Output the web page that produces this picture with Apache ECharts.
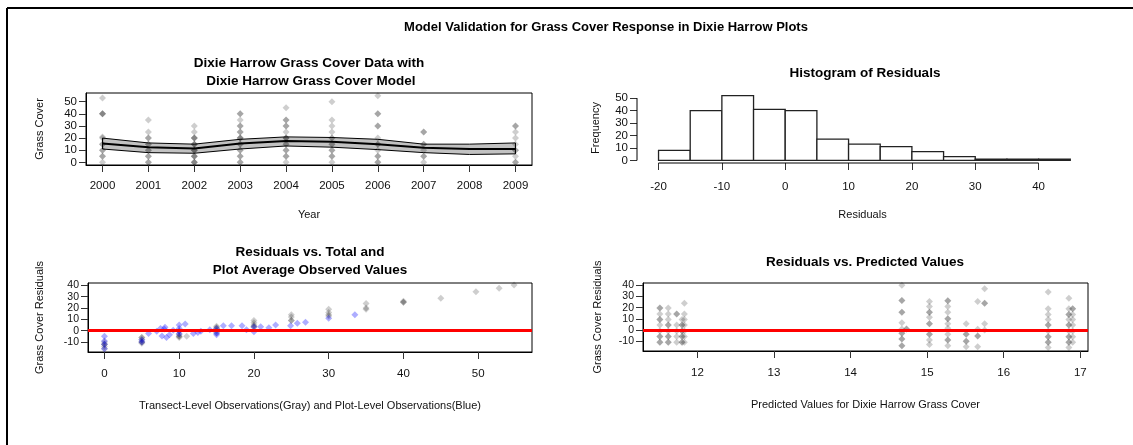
<!DOCTYPE html>
<html>
<head>
<meta charset="utf-8">
<title>Model Validation for Grass Cover Response in Dixie Harrow Plots</title>
<script src="https://cdn.jsdelivr.net/npm/echarts@6/dist/echarts.min.js"></script>
<style>
  html, body { margin: 0; padding: 0; background: #fff; }
  #chart { width: 1133px; height: 445px; }
</style>
</head>
<body>
<div id="chart"></div>
<script>
// ---- data ----
// top left: observed grass cover per year (duplicates = overlapping points)
const obsYears = [2000, 2001, 2002, 2003, 2004, 2005, 2006, 2007, 2009]
const obsByYear = [
  [53, 40, 40, 40, 21, 20, 15, 15, 10, 10, 5, 5, 0],
  [35, 25, 20, 20, 15, 15, 10, 10, 5, 5, 0, 0],
  [30, 25, 20, 20, 20, 15, 15, 15, 10, 10, 10, 5, 5, 5, 0, 0, 0],
  [40, 40, 35, 30, 30, 25, 25, 20, 20, 20, 15, 15, 10, 10, 5, 5, 0, 0],
  [45, 35, 35, 30, 30, 25, 20, 20, 20, 15, 15, 10, 10, 5, 5, 0],
  [50, 35, 30, 25, 20, 20, 15, 15, 10, 10, 5, 5, 0],
  [55, 40, 40, 30, 30, 20, 15, 15, 10, 5, 5, 0, 0],
  [25, 25, 15, 15, 10, 5, 5, 0],
  [30, 30, 25, 20, 15, 10, 10, 5, 0, 0]
]
// model fit and band
const modelYears = [2000, 2001, 2002, 2003, 2004, 2005, 2006, 2007, 2008, 2009]
const modelMean  = [15.5, 12.5, 11.5, 15.5, 17.5, 17, 15, 12, 11, 11]
const modelLower = [11, 8, 7.5, 11, 13.5, 12.5, 10.5, 8, 6.5, 7]
const modelUpper = [20, 16, 15, 19, 21, 20.5, 19, 15, 15, 16]

// top right: histogram of residuals
const binStarts = [-20, -15, -10, -5, 0, 5, 10, 15, 20, 25, 30, 35, 40]
const binCounts = [8, 40, 52, 41, 40, 17, 13, 11, 7, 3, 1, 1, 1]
const binWidth = 5

// bottom left: residuals vs observed (gray = transect level, blue = plot level)
const transectObs = [0, 0, 0, 0, 0, 5, 5, 5, 5, 5, 5, 10, 10, 10, 10, 10, 11,
  15, 15, 15, 15, 15, 20, 20, 20, 20, 20, 25, 25, 25, 25, 30, 30, 30, 30,
  35, 35, 35, 40, 40, 40, 45, 49.7, 52.8, 54.8]
const transectRes = [-10, -12, -12, -14, -16, -6, -6, -8, -10, -10, -11, 0, -3, -5, -5, -6, -5,
  4, 3, 2, 0, -2, 9, 7, 5, 4, 3, 14, 12, 9, 9, 19, 16, 14, 13,
  24, 20, 19, 26, 25, 25, 28.6, 34.4, 37.4, 40.3]
const plotObs = [0, 0, 0, 0, 5, 5, 5.9, 7, 7.5, 7.7, 8, 8.1, 8.3, 8.7, 9.2, 10, 10, 10, 10,
  10.8, 11.9, 12.5, 12.9, 14.1, 15, 15, 15, 15.9, 17, 18.4, 19, 20, 20, 20.9, 22, 22.9,
  24.9, 25.8, 26.9, 30, 33.5]
const plotRes = [-5, -9, -12, -16, -8, -10, -2.5, -0.5, 2, -4.7, 1.4, 3, -6, -3.5, 0.5, 5, 2, -0.5, -3,
  6, -2.5, -1.5, -0.5, 0.8, 2, -2, -3.5, 4.4, 4.4, 4.4, 0.8, -1, 3.5, 3.5, 2.6, 5,
  4.4, 6.5, 7.4, 11, 14]

// bottom right: residuals vs predicted values, one column per predicted value
const predValues = [11.51, 11.62, 11.73, 11.8, 11.83, 14.67, 14.73, 15.03, 15.27, 15.51, 15.66, 15.75, 16.58, 16.85, 16.9]
const predResByValue = [
  [19.7, 19.7, 14.4, 9.4, 9.4, 4.4, -1, -5.9, -5.9, -10.9, -10.9],
  [19.7, 14.4, 9.4, 4.4, 4.4, -1, -5.9, -5.9, -10.9, -10.9],
  [14.4, 14.4, 4.4, -1, -5.9, -10.9],
  [9.4, 4.4, 4.4, -1, -1, -5.9, -5.9, -10.9, -10.9],
  [24, 14.4, 9.4, 4.4, -1, -5.9, -10.9],
  [40, 26.5, 26.5, 15.9, 15.9, 6.5, 1, -3, -3, -8, -8, -14, -14],
  [1, 1],
  [25.6, 21, 16, 16, 11.5, 5.6, 5.6, -3.8, -3.8, -9, -13],
  [26.2, 26.2, 21, 16, 10, 10, 5.6, 1.5, -3.8, -9, -9, -14],
  [5.6, -3.8, -3.8, -10, -10, -15],
  [25.6, 0.6, -5.3, -5.3, -15],
  [37, 24, 24, 5.6, 0],
  [34, 19, 14, 9.4, 4.4, 4.4, -1, -6, -6, -11, -11, -15.6],
  [28.5, 19, 14, 14, 9.4, 4.4, 4.4, -1, -6, -6, -11, -11, -15.6],
  [19, 19, 14, 9.4, 4.4, -1, -6, -11]
]

// tick labels
const yearTicks = [2000, 2001, 2002, 2003, 2004, 2005, 2006, 2007, 2008, 2009]
const coverTicks = [0, 10, 20, 30, 40, 50]
const histXTicks = [-20, -10, 0, 10, 20, 30, 40]
const histYTicks = [0, 10, 20, 30, 40, 50]
const residTicks = [-10, 0, 10, 20, 30, 40]
const obsTicks = [0, 10, 20, 30, 40, 50]
const predTicks = [12, 13, 14, 15, 16, 17]

// ---- chart ----
const FONT = 'Liberation Sans, Arial, sans-serif'
const chart = echarts.init(document.getElementById('chart'))

function pairs (xs, ys) {
  return xs.map((x, i) => [x, ys[i]])
}

function axis (gridIndex, min, max, ticks, name, nameGap, isY, hideLine, labelSize, labelMargin) {
  return {
    type: 'value',
    gridIndex: gridIndex,
    min: min,
    max: max,
    name: name,
    nameLocation: 'middle',
    nameGap: nameGap,
    nameRotate: isY ? 90 : 0,
    nameTextStyle: { fontFamily: FONT, fontSize: 11, color: '#111' },
    axisLine: { show: !hideLine, onZero: false, lineStyle: { color: '#000', width: 1 } },
    axisTick: { show: true, length: 7, customValues: ticks, lineStyle: { color: '#333', width: 1 } },
    axisLabel: {
      customValues: ticks,
      showMinLabel: true,
      showMaxLabel: true,
      margin: labelMargin || (isY ? 9 : 15),
      fontFamily: FONT,
      fontSize: labelSize || 11.5,
      lineHeight: 9,
      color: '#111',
      formatter: v => String(v)
    },
    splitLine: { show: false }
  }
}

const pointStyle = { color: 'rgba(0,0,0,0.24)' }
const redLine = {
  silent: true,
  symbol: 'none',
  z: 10,
  label: { show: false },
  lineStyle: { color: '#ff0000', width: 3, type: 'solid' },
  data: [{ yAxis: 0 }]
}

const coverPoints = []
obsYears.forEach((yr, i) => {
  obsByYear[i].forEach(v => coverPoints.push([yr, v]))
})
const predPoints = []
predValues.forEach((p, i) => {
  predResByValue[i].forEach(r => predPoints.push([p, r]))
})

const histX = { min: -23.4, max: 47.8 }
const histY = { min: -2.08, max: 54.08 }

function title (text, x, y, size) {
  return {
    type: 'text',
    x: x,
    y: y,
    style: {
      text: text,
      fontFamily: FONT,
      fontSize: size,
      fontWeight: 'bold',
      fill: '#000',
      textAlign: 'center',
      textVerticalAlign: 'middle',
      lineHeight: 18
    }
  }
}

var option = {
  backgroundColor: '#fff',
  animation: false,
  graphic: [
    { type: 'line', shape: { x1: 7, y1: 8, x2: 1140, y2: 8 }, style: { stroke: '#000', lineWidth: 2 } },
    { type: 'line', shape: { x1: 7, y1: 8, x2: 7, y2: 450 }, style: { stroke: '#000', lineWidth: 2 } },
    title('Model Validation for Grass Cover Response in Dixie Harrow Plots', 606, 27, 13),
    title('Dixie Harrow Grass Cover Data with\n Dixie Harrow Grass Cover Model', 309, 72, 13.5),
    title('Histogram of Residuals', 865, 73, 13.5),
    title('Residuals vs. Total and\nPlot Average Observed Values', 310, 261, 13.5),
    title('Residuals vs. Predicted Values', 865, 262, 13.5)
  ],
  grid: [
    { left: 86, top: 93, width: 446, height: 72, show: true, borderColor: '#000', borderWidth: 1 },
    { left: 637, top: 93, width: 451, height: 70, show: false },
    { left: 88, top: 283, width: 444, height: 69, show: true, borderColor: '#000', borderWidth: 1 },
    { left: 643, top: 283, width: 445, height: 68, show: true, borderColor: '#000', borderWidth: 1 }
  ],
  xAxis: [
    axis(0, 1999.64, 2009.36, yearTicks, 'Year', 44, false, false, 11.5, 16),
    axis(1, histX.min, histX.max, histXTicks, 'Residuals', 46, false, true, 11.5, 19),
    axis(2, -2.2, 57.2, obsTicks, 'Transect-Level Observations(Gray) and Plot-Level Observations(Blue)', 48, false, false, 11.5, 17),
    axis(3, 11.29, 17.1, predTicks, 'Predicted Values for Dixie Harrow Grass Cover', 48, false, false, 11.5, 17)
  ],
  yAxis: [
    axis(0, -2.2, 57.2, coverTicks, 'Grass Cover', 41, true),
    axis(1, histY.min, histY.max, histYTicks, 'Frequency', 36, true, true),
    axis(2, -18.8, 42.1, residTicks, 'Grass Cover Residuals', 43, true, false, 10.5),
    axis(3, -18.8, 42.1, residTicks, 'Grass Cover Residuals', 40, true, false, 10.5)
  ],
  series: [
    {
      // confidence band of the model
      type: 'custom',
      xAxisIndex: 0,
      yAxisIndex: 0,
      z: 1,
      silent: true,
      data: [[modelYears[0], modelLower[0]]],
      renderItem: function (params, api) {
        const pts = []
        modelYears.forEach((yr, i) => pts.push(api.coord([yr, modelUpper[i]])))
        for (let i = modelYears.length - 1; i >= 0; i--) {
          pts.push(api.coord([modelYears[i], modelLower[i]]))
        }
        return {
          type: 'polygon',
          shape: { points: pts },
          style: { fill: '#c2c2c2', stroke: '#000', lineWidth: 1 }
        }
      }
    },
    {
      type: 'scatter',
      xAxisIndex: 0,
      yAxisIndex: 0,
      z: 3,
      symbol: 'diamond',
      symbolSize: 7,
      itemStyle: pointStyle,
      data: coverPoints
    },
    {
      type: 'line',
      xAxisIndex: 0,
      yAxisIndex: 0,
      z: 4,
      symbol: 'none',
      lineStyle: { color: '#000', width: 2 },
      data: pairs(modelYears, modelMean)
    },
    {
      // histogram bars
      type: 'custom',
      xAxisIndex: 1,
      yAxisIndex: 1,
      data: pairs(binStarts, binCounts),
      renderItem: function (params, api) {
        const p0 = api.coord([api.value(0), api.value(1)])
        const p1 = api.coord([api.value(0) + binWidth, 0])
        return {
          type: 'rect',
          shape: { x: p0[0], y: p0[1], width: p1[0] - p0[0], height: p1[1] - p0[1] },
          style: { fill: '#fff', stroke: '#222', lineWidth: 1.3 }
        }
      }
    },
    {
      // histogram x axis line (spans first to last tick)
      type: 'line',
      xAxisIndex: 1,
      yAxisIndex: 1,
      clip: false,
      symbol: 'none',
      lineStyle: { color: '#000', width: 1 },
      data: [[histXTicks[0], histY.min], [histXTicks[histXTicks.length - 1], histY.min]]
    },
    {
      // histogram y axis line
      type: 'line',
      xAxisIndex: 1,
      yAxisIndex: 1,
      clip: false,
      symbol: 'none',
      lineStyle: { color: '#000', width: 1 },
      data: [[histX.min, histYTicks[0]], [histX.min, histYTicks[histYTicks.length - 1]]]
    },
    {
      type: 'scatter',
      xAxisIndex: 2,
      yAxisIndex: 2,
      symbol: 'diamond',
      symbolSize: 7,
      itemStyle: pointStyle,
      data: pairs(transectObs, transectRes)
    },
    {
      type: 'scatter',
      xAxisIndex: 2,
      yAxisIndex: 2,
      symbol: 'diamond',
      symbolSize: 7,
      itemStyle: { color: 'rgba(0,0,255,0.4)' },
      data: pairs(plotObs, plotRes),
      markLine: redLine
    },
    {
      type: 'scatter',
      xAxisIndex: 3,
      yAxisIndex: 3,
      symbol: 'diamond',
      symbolSize: 7,
      itemStyle: pointStyle,
      data: predPoints,
      markLine: redLine
    }
  ]
}
chart.setOption(option)
</script>
</body>
</html>
